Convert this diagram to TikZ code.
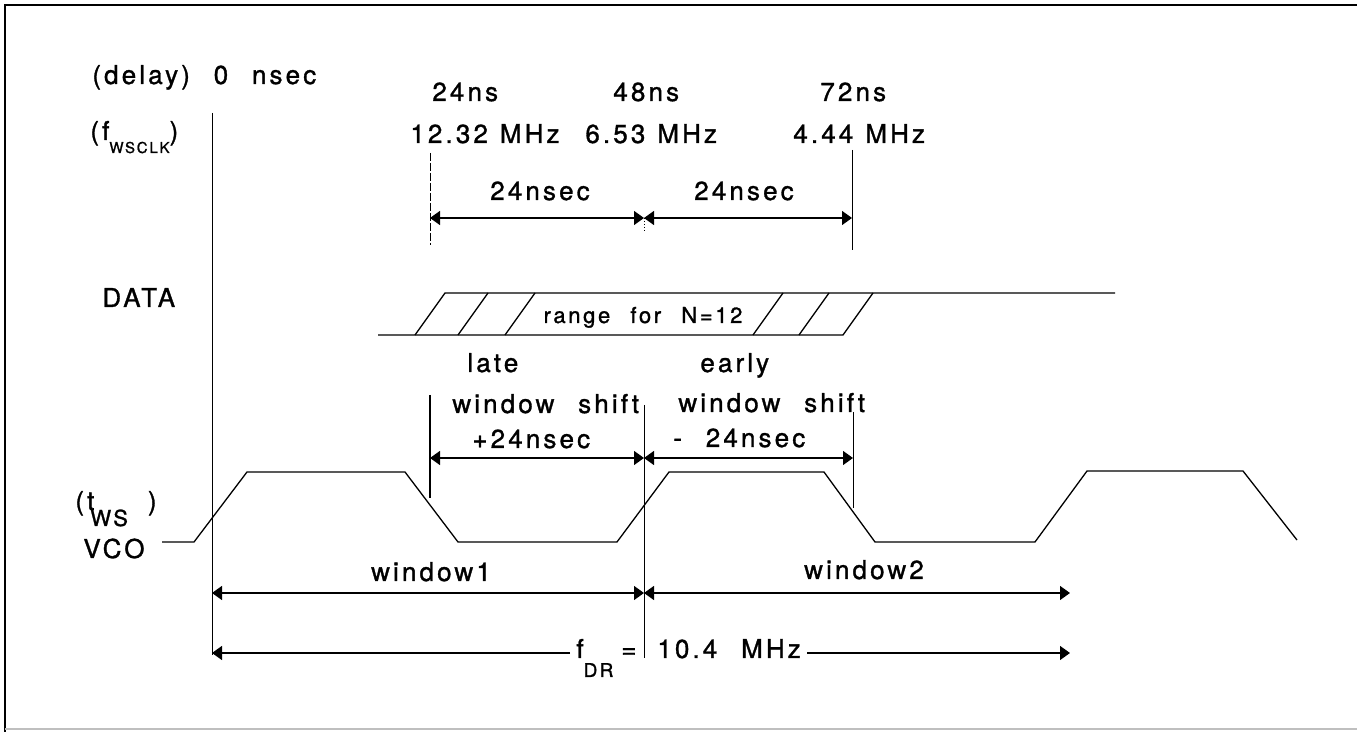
\documentclass[tikz,border=0pt]{standalone}
\usepackage{fontspec}
\setmainfont{TeX Gyre Heros}[LetterSpace=12, FakeBold=1.2, WordSpace=2.3]
\usetikzlibrary{arrows.meta,positioning}

\begin{document}
\begin{tikzpicture}[x=0.5pt, y=-0.5pt,
    lbl/.style={inner sep=0pt, anchor=base west, font=\fontsize{13}{15}\selectfont},
    small/.style={inner sep=0pt, anchor=base, font=\fontsize{11}{13}\selectfont},
    wave/.style={line width=0.65pt},
    guide/.style={line width=0.5pt},
    dim/.style={line width=0.65pt, {Triangle[length=5pt,width=7pt]}-{Triangle[length=5pt,width=7pt]}},
    half/.style={line width=0.65pt, -{Triangle[length=5pt,width=7pt]}}]
  \useasboundingbox (0,0) rectangle (1357,732);

  % Frame
  \draw[line width=1pt] (5,732) -- (5,5) -- (1357,5);
  \draw[line width=0.6pt, black!25] (5,729) -- (1357,729);

  % Row labels
  \node[lbl] (delay) at (92,84) {(delay) 0 nsec};
  \node[lbl] (fws) at (90,140) {(f\raisebox{-6.5pt}{\fontsize{7.5}{8}\selectfont WSCLK})};
  \node[lbl] (data) at (102,307) {DATA};
  \node[lbl] (tws) at (75,510) {(t\hspace{-2pt}\raisebox{-8pt}{\fontsize{11}{11}\selectfont WS}\hspace{10pt})};
  \node[lbl] (vco) at (83,558) {VCO};

  % Delay and frequency labels
  \foreach \x/\lab [count=\i] in {432/24ns, 613/48ns, 820/72ns} {
    \node[lbl] (ns\i) at (\x,101) {\lab};
  }
  \foreach \x/\lab [count=\i] in {410/12.32, 585/6.53, 793/4.44} {
    \node[lbl] (mhz\i) at (\x,143) {\lab\hspace{6pt}MHz};
  }

  % Time marks
  \coordinate (t0a) at (212,113);  \coordinate (t0b) at (212,655);
  \coordinate (t1a) at (430,153);  \coordinate (t1b) at (430,245);
  \coordinate (t3a) at (852,150);  \coordinate (t3b) at (852,250);
  \draw[guide] (t0a) -- (t0b);
  \draw[guide, dash pattern=on 4pt off 1pt] (t1a) -- (t1b);
  \draw[guide] (t3a) -- (t3b);
  \draw[guide, densely dotted] (644,218) -- (644,233);

  % 24nsec steps
  \coordinate (d1) at (430,218);
  \coordinate (d2) at (644,218);
  \coordinate (d3) at (852,218);
  \draw[dim] (d1) -- (d2);
  \draw[dim] (d2) -- (d3);
  \node[lbl, anchor=base] (s1) at (540,200) {24nsec};
  \node[lbl, anchor=base] (s2) at (744,200) {24nsec};

  % DATA
  \draw[wave] (378,335) -- (843,335) -- (873,293);
  \draw[wave] (415,335) -- (445,293) -- (1115,293);
  \foreach \x in {458,505,753,799} {
    \draw[wave] (\x,335) -- ++(30,-42);
  }
  \node[small] (range) at (643,323) {range for N=12};

  % Window shifts
  \node[lbl] (late) at (467,372) {late};
  \node[lbl] (ws1) at (452,413) {window shift};
  \node[lbl] (p24) at (472,448) {+24nsec};
  \node[lbl] (early) at (700,372) {early};
  \node[lbl] (ws2) at (678,412) {window shift};
  \node[lbl] (m24) at (673,447) {- 24nsec};
  \coordinate (w1) at (430,458);
  \coordinate (w2) at (644,458);
  \coordinate (w3) at (853,458);
  \draw[guide, line width=0.8pt] (430,395) -- (430,498);
  \draw[guide] (644,405) -- (644,658);
  \draw[guide] (853,412) -- (853,508);
  \draw[dim] (w1) -- (w2);
  \draw[dim] (w2) -- (w3);

  % VCO
  \draw[wave] (162,542) -- (194,542) -- (247,472) -- (405,472) -- (458,542)
    -- (617,542) -- (669,472) -- (824,472) -- (875,542) -- (1035,542)
    -- (1087,471) -- (1243,471) -- (1297,540);

  % Windows
  \coordinate (b0) at (212,593);
  \coordinate (b1) at (644,593);
  \coordinate (b2) at (1070,593);
  \draw[dim] (b0) -- (b1);
  \draw[dim] (b1) -- (b2);
  \node[lbl, anchor=base] (win1) at (431,581) {window1};
  \node[lbl, anchor=base] (win2) at (864,579) {window2};

  % f_DR
  \node[lbl] (fdr) at (576,658) {f\raisebox{-9.5pt}{\fontsize{9.5}{10}\selectfont DR}\hspace{4pt}=};
  \node[lbl] (fval) at (657,658) {10.4 MHz};
  \coordinate (e0) at (212,653);
  \coordinate (e1) at (1070,653);
  \draw[half] (fdr.west |- e0) ++(-6,0) -- (e0);
  \draw[half] (fval.east |- e1) ++(6,0) -- (e1);
\end{tikzpicture}
\end{document}
